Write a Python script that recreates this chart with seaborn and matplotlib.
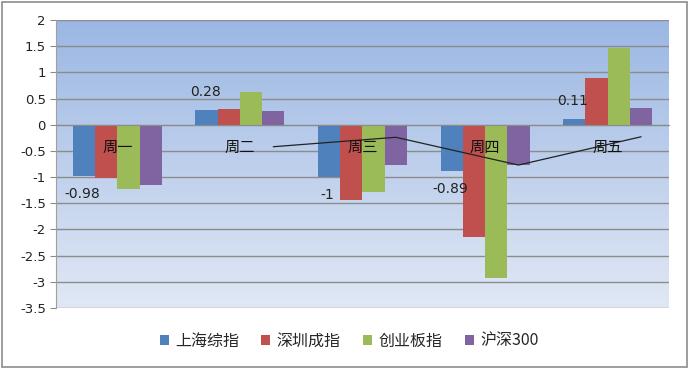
import numpy as np
import pandas as pd
import matplotlib
matplotlib.use("Agg")
import matplotlib.pyplot as plt
import matplotlib.patches as mpatches
from matplotlib.colors import LinearSegmentedColormap
import seaborn as sns

days = ["周一", "周二", "周三", "周四", "周五"]
series = ["上海综指", "深圳成指", "创业板指", "沪深300"]
sh = [-0.98, 0.28, -1.0, -0.89, 0.11]
sz = [-1.02, 0.30, -1.43, -2.14, 0.90]
cyb = [-1.23, 0.62, -1.29, -2.92, 1.46]
hs300 = [-1.15, 0.27, -0.77, -0.77, 0.31]
line_vals = [None, -0.42, -0.24, -0.77, -0.23]
label_vals = ["-0.98", "0.28", "-1", "-0.89", "0.11"]
colors = ["#4F81BD", "#C0504D", "#9BBB59", "#8064A2"]
yticks = [-3.5, -3, -2.5, -2, -1.5, -1, -0.5, 0, 0.5, 1, 1.5, 2]

sns.set_style("white")
plt.rcParams["font.family"] = ["Noto Sans CJK SC", "DejaVu Sans"]
plt.rcParams["axes.unicode_minus"] = False
NUM_FONT = ["DejaVu Sans"]

rows = []
for name, vals in zip(series, [sh, sz, cyb, hs300]):
    for d, v in zip(days, vals):
        rows.append({"day": d, "series": name, "value": v})
df = pd.DataFrame(rows)

fig = plt.figure(figsize=(6.89, 3.69), dpi=100)
ax = fig.add_axes([56/689, 1-308/369, (669-56)/689, (308-20)/369])

# gradient background
cmap = LinearSegmentedColormap.from_list("bg", ["#e1e8f5", "#9bb7e3"])
grad = np.linspace(0, 1, 256).reshape(-1, 1)
ax.imshow(grad, cmap=cmap, aspect="auto", origin="lower",
          extent=[0, 1, 0, 1], transform=ax.transAxes, zorder=0)

sns.barplot(data=df, x="day", y="value", hue="series", palette=colors,
            width=0.726, saturation=1, ax=ax, legend=False, zorder=3,
            linewidth=0)

ax.set_ylim(-3.5, 2)
ax.set_xlim(-0.5, 4.5)
ax.set_yticks(yticks)
ax.set_yticklabels([f"{t:g}" for t in yticks], fontsize=9.5,
                   color="#222222", family=NUM_FONT)
ax.set_xlabel("")
ax.set_ylabel("")
for t in yticks:
    ax.axhline(t, color="#8c8c8c", lw=1.0, zorder=1)

for s in ["top", "right"]:
    ax.spines[s].set_visible(False)
ax.spines["left"].set_color("#a0a0a0")
ax.spines["bottom"].set_position(("data", 0))
ax.spines["bottom"].set_color("#8c8c8c")
ax.spines["bottom"].set_zorder(4)
ax.set_xticks([0.5, 1.5, 2.5, 3.5])
ax.set_xticklabels([])
ax.tick_params(axis="x", direction="out", length=3.5, color="#8c8c8c", width=1)
ax.tick_params(axis="y", direction="out", length=4.3, color="#8c8c8c", pad=3, left=True)

# category labels near the zero line
for i, d in enumerate(days):
    ax.annotate(d, xy=(i, 0), xytext=(0, -16), textcoords="offset points",
                ha="center", va="center", fontsize=11, color="#111111", zorder=6)

# data labels of first series
blue = ax.containers[0]
for bar, v, lab in zip(blue.patches, sh, label_vals):
    cx = bar.get_x() + bar.get_width() / 2
    off = 13 if v >= 0 else -13
    ax.annotate(lab, xy=(cx, v), xytext=(-1, off), textcoords="offset points",
                ha="center", va="center", fontsize=10, color="#222222",
                family=NUM_FONT, zorder=6)

# black line through purple bar centres
purple = ax.containers[3]
lx, ly = [], []
for bar, v in zip(purple.patches, line_vals):
    if v is not None:
        lx.append(bar.get_x() + bar.get_width() / 2)
        ly.append(v)
ax.plot(lx, ly, color="#222222", lw=0.9, zorder=5)

handles = [mpatches.Patch(facecolor=c, edgecolor="none") for c in colors]
fig.legend(handles, series, loc="center", bbox_to_anchor=(349/689, 1-341/369),
           ncol=4, frameon=False, fontsize=11.5, handlelength=0.56,
           handleheight=0.56, handletextpad=0.4, columnspacing=1.4)

fig.add_artist(mpatches.Rectangle((2/689, 2/369), 685/689, 365/369,
                                  transform=fig.transFigure, fill=False,
                                  ec="#8c8c8c", lw=1.2))

fig.savefig("out.png", dpi=100)
